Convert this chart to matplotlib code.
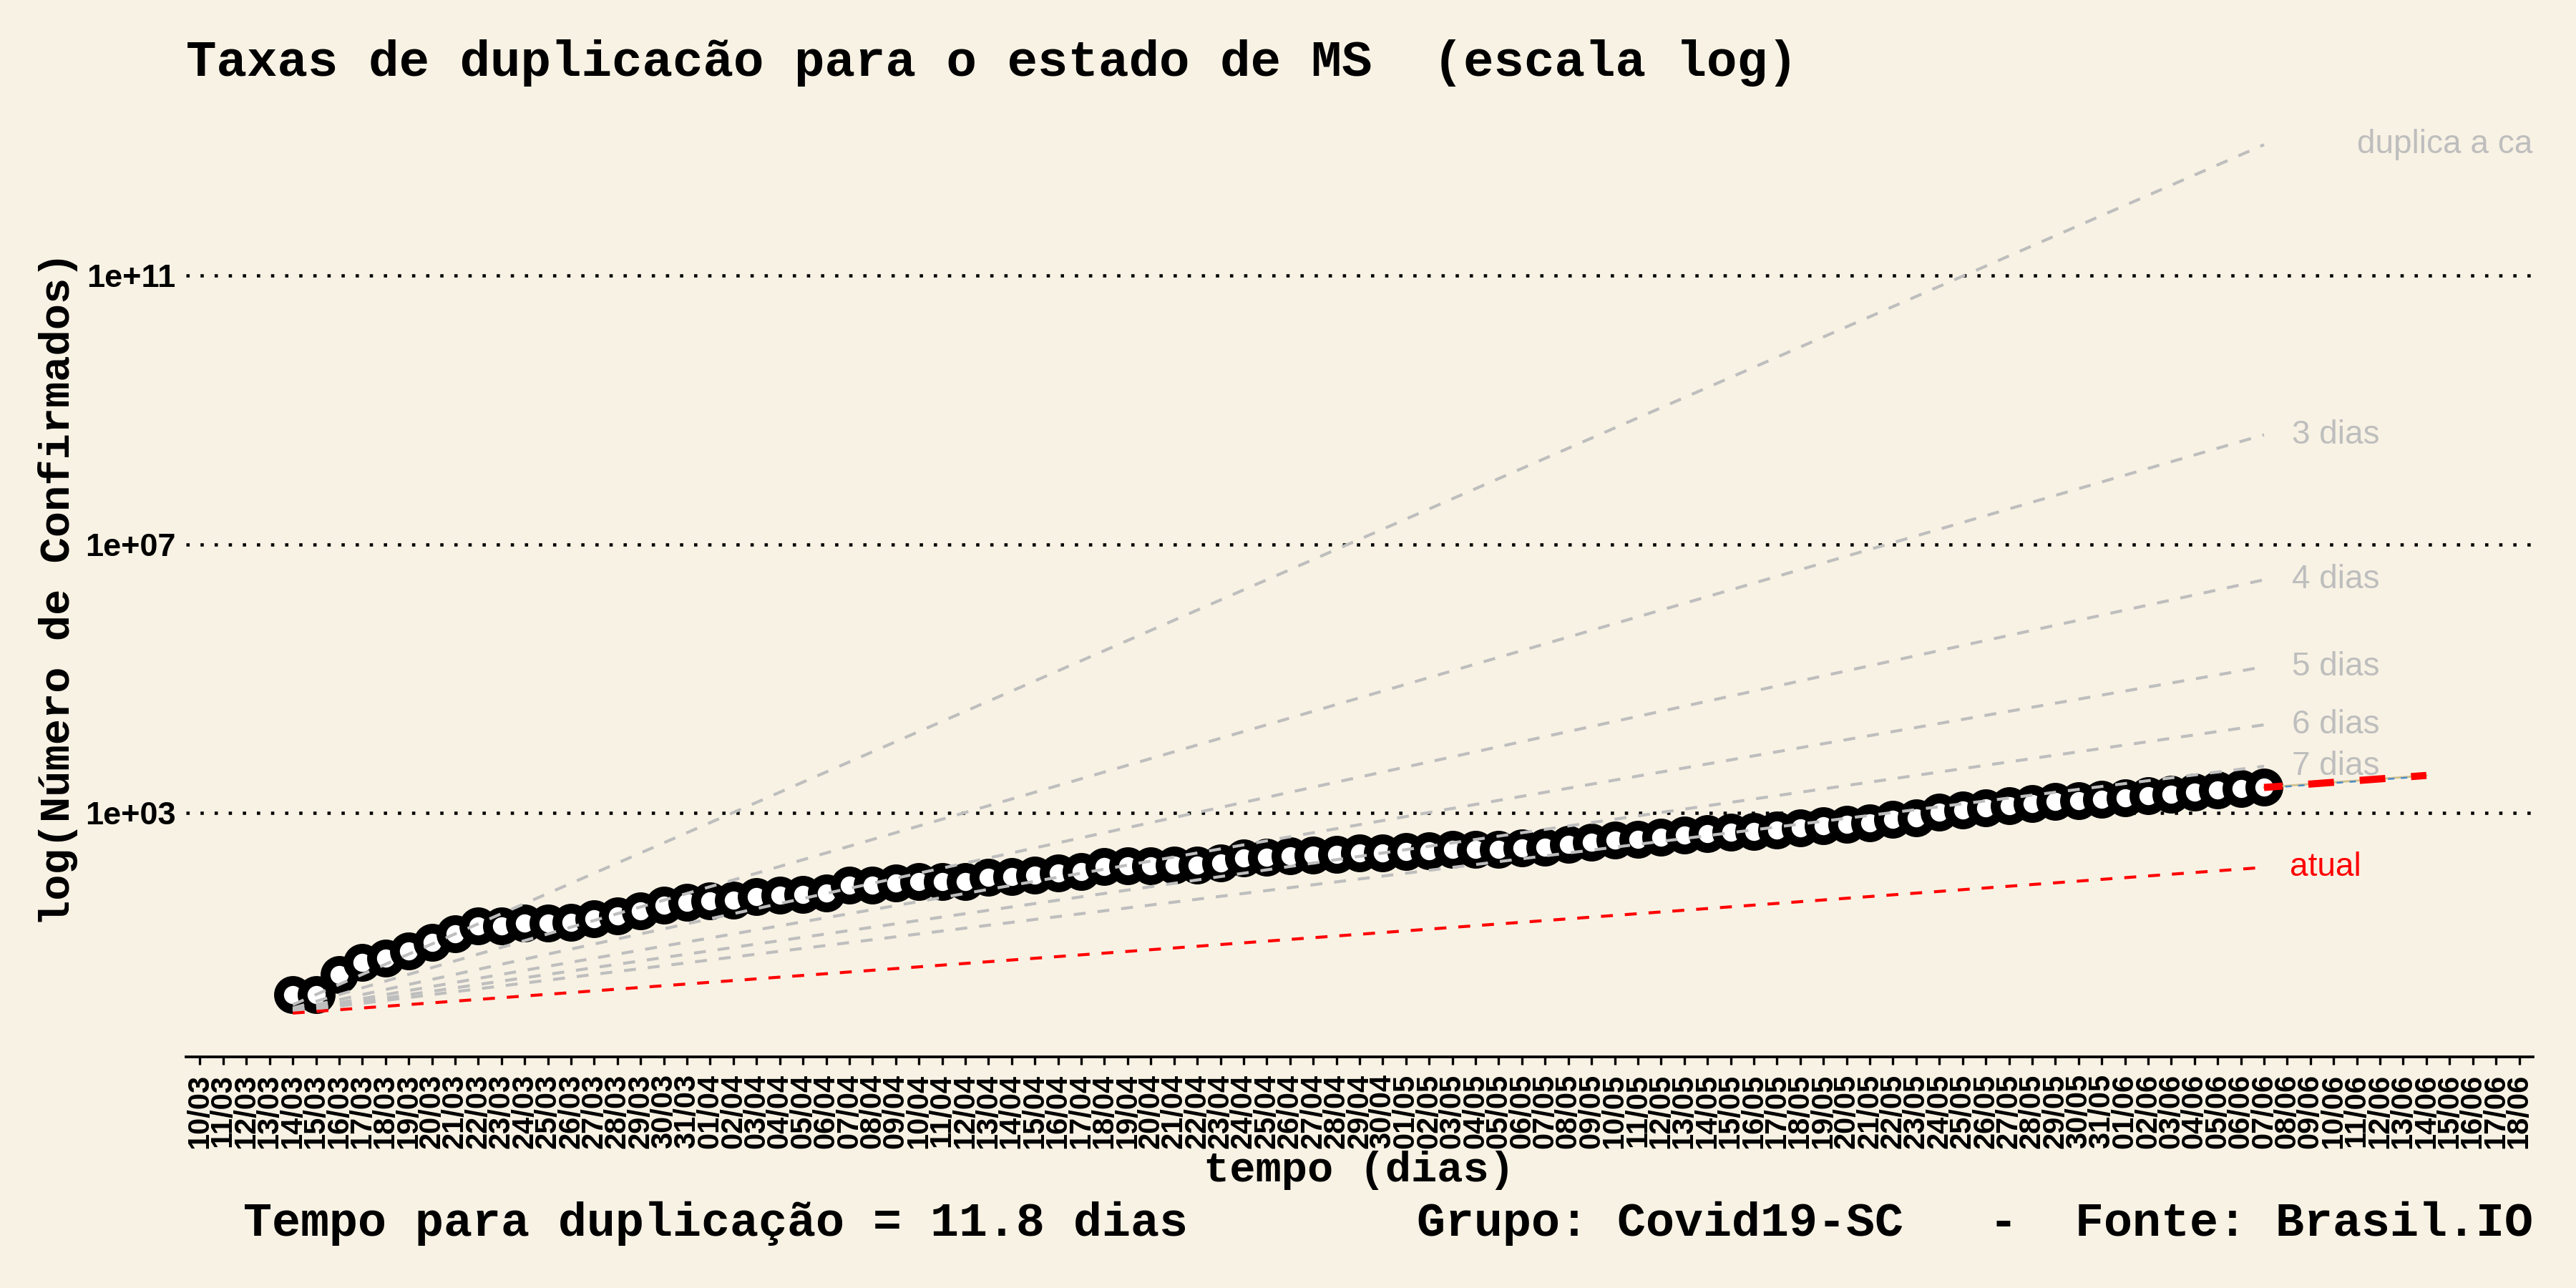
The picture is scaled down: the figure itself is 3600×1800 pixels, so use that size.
import matplotlib
matplotlib.use("Agg")
import matplotlib.pyplot as plt
import numpy as np
import pandas as pd

# ---------------- data ----------------
tick_dates = pd.date_range("2020-03-10", "2020-06-18", freq="D")
tick_labels = [d.strftime("%d/%m") for d in tick_dates]
first_label = "14/03"

confirmados = [
    2, 2, 4, 6, 7, 9, 12, 16, 21, 21, 23, 23, 24, 27, 30, 35, 43, 47,            # 14/03-31/03
    49, 51, 58, 60, 62, 65, 86, 86, 91, 96, 97, 97, 110, 113, 119, 129, 135,    # 01/04-17/04
    159, 165, 165, 167, 170, 180, 215, 220, 235, 238, 245, 255, 258,            # 18/04-30/04
    266, 277, 289, 290, 292, 301, 313, 340, 369, 401, 405, 435, 471, 491, 520,  # 01/05-15/05
    532, 564, 602, 654, 681, 721, 802, 849, 1025, 1112, 1208, 1277, 1386,       # 16/05-28/05
    1506, 1541, 1606,                                                           # 29/05-31/05
    1674, 1816, 1892, 2053, 2229, 2318, 2414,                                   # 01/06-07/06
]

doubling_days = [2, 3, 4, 5, 6, 7]
doubling_labels = ["duplica a cada 2 dias", "3 dias", "4 dias", "5 dias", "6 dias", "7 dias"]
atual_days = 11.8
atual_label = "atual"
proj_days = 7

y_ticks = [1e3, 1e7, 1e11]
y_tick_labels = ["1e+03", "1e+07", "1e+11"]

title = "Taxas de duplicacão para o estado de MS  (escala log)"
xlabel = "tempo (dias)"
ylabel = "log(Número de Confirmados)"
caption = ("Tempo para duplicação = 11.8 dias        Grupo: Covid19-SC   -  "
           "Fonte: Brasil.IO")

# ---------------- style ----------------
BG = "#F8F2E4"
GRAY = "#BEBEBE"
MONO = "Liberation Mono"
SANS = "Liberation Sans"

fig = plt.figure(figsize=(12, 6), dpi=300, facecolor=BG)
ax = fig.add_axes([260 / 3600, 1 - 1477 / 1800, 3280 / 3600, 1335 / 1800])
ax.set_facecolor(BG)

x_all = np.arange(len(tick_labels))
start = tick_labels.index(first_label)
n = len(confirmados)
xs = np.arange(start, start + n)
steps = np.arange(1, n + 1)

# points
ax.plot(xs, confirmados, linestyle="none", marker="o", ms=9.4,
        mfc="white", mec="black", mew=3.3, zorder=3)

# doubling reference lines
for d, lab in zip(doubling_days, doubling_labels):
    yv = 2.0 ** (steps / d)
    ax.plot(xs, yv, color=GRAY, lw=1.0, ls=(0, (4, 4)), zorder=4)
    xoff = 4.0 if d == 2 else 1.2
    ax.text(xs[-1] + xoff, yv[-1], lab, color=GRAY, fontsize=11, family=SANS,
            ha="left", va="center", clip_on=True, zorder=5)

ya = 2.0 ** (steps / atual_days)
ax.plot(xs, ya, color="red", lw=1.0, ls=(0, (4, 4)), zorder=4)
ax.text(xs[-1] + 1.1, ya[-1], atual_label, color="red", fontsize=11,
        family=SANS, ha="left", va="center", zorder=5)

# projection after the last point
px = np.arange(xs[-1], xs[-1] + proj_days + 1)
py = confirmados[-1] * 2.0 ** ((px - xs[-1]) / atual_days)
ax.plot(px, py, color="#D2C28F", lw=0.7, zorder=4)
ax.plot(px, py * 0.975, color="#4A8CC8", lw=0.6, ls=(2.5, (3.6, 3.6)), zorder=4)
ax.plot(px, py, color="red", lw=2.4, ls=(1.0, (3.6, 3.6)), zorder=5)

# axes
ax.set_yscale("log")
ax.set_xlim(-0.6, len(tick_labels) - 1 + 0.6)
ax.set_ylim(10 ** -0.625, 10 ** 13.585)

ax.set_yticks(y_ticks)
ax.set_yticklabels(y_tick_labels)
ax.yaxis.set_minor_locator(matplotlib.ticker.NullLocator())
ax.set_xticks(x_all)
ax.set_xticklabels(tick_labels, rotation=90)

for lbl in ax.get_xticklabels():
    lbl.set_fontfamily(SANS)
    lbl.set_fontweight("bold")
    lbl.set_fontsize(10)
for lbl in ax.get_yticklabels():
    lbl.set_fontfamily(SANS)
    lbl.set_fontweight("bold")
    lbl.set_fontsize(10.8)

ax.tick_params(axis="x", length=2.7, width=0.8, pad=3, color="black")
ax.tick_params(axis="y", length=0, pad=3.4)

ax.yaxis.grid(True, color="black", ls=(0, (1, 3.3)), lw=1.1)
ax.xaxis.grid(False)
ax.set_axisbelow(True)

for s in ["left", "right", "top"]:
    ax.spines[s].set_visible(False)
ax.spines["bottom"].set_color("black")
ax.spines["bottom"].set_linewidth(0.9)

ax.set_xlabel(xlabel, family=MONO, fontweight="bold", fontsize=14.5)
ax.xaxis.set_label_coords(0.5, -0.1184)
ax.xaxis.label.set_va("center")
ax.set_ylabel(ylabel, family=MONO, fontweight="bold", fontsize=14.5)
ax.yaxis.set_label_coords(-0.0545, 0.49)
ax.yaxis.label.set_va("center")

fig.text(260 / 3600, 1 - 88 / 1800, title, family=MONO, fontweight="bold",
         fontsize=17, ha="left", va="center")
fig.text(3540 / 3600, 1 - 1710 / 1800, caption, family=MONO, fontweight="bold",
         fontsize=16, ha="right", va="center")

fig.savefig("out.png", dpi=300, facecolor=BG)
